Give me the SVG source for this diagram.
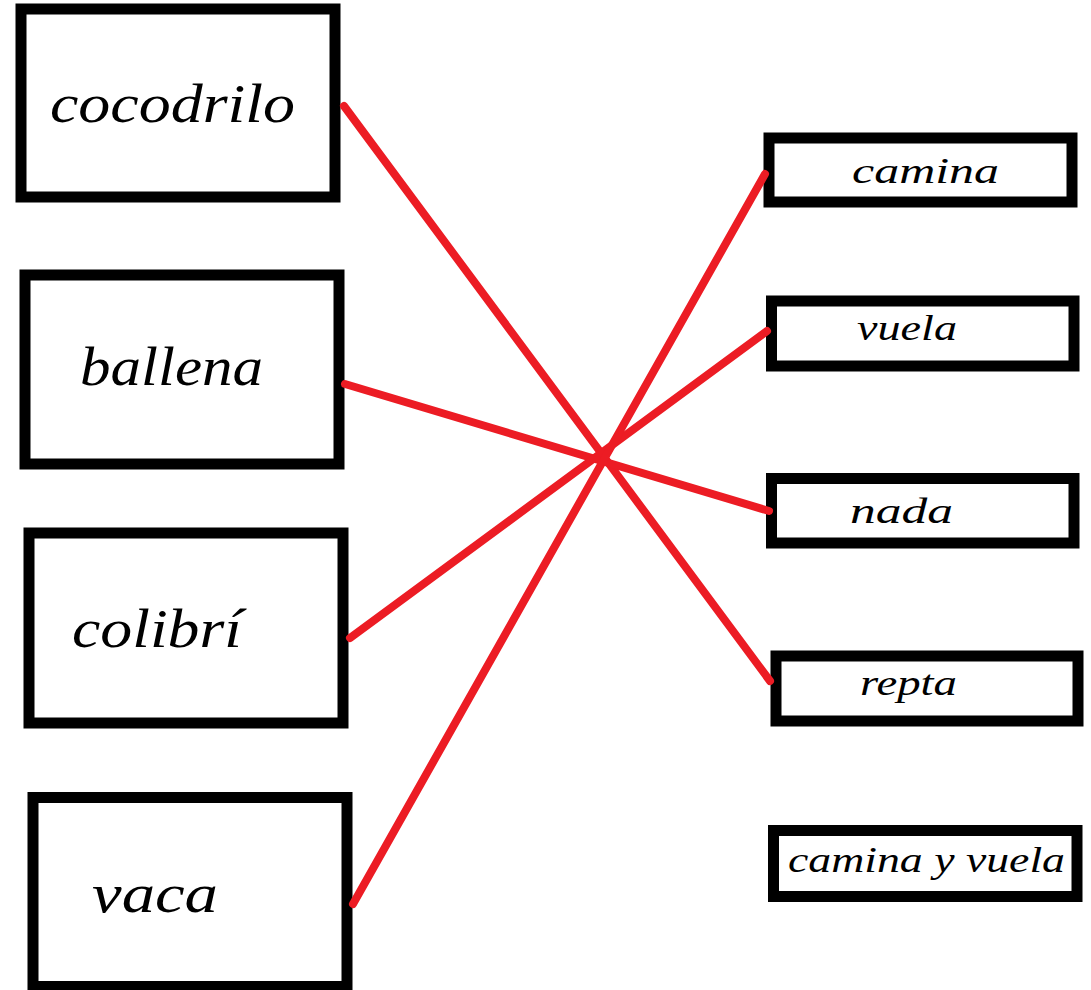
<svg xmlns="http://www.w3.org/2000/svg" width="1091" height="990" viewBox="0 0 1091 990">
<style>
.box{fill:#fff;stroke:#000;stroke-width:11}
.big{font-family:"Liberation Serif","DejaVu Serif",serif;font-style:italic;font-size:54px;fill:#000}
.small{font-family:"Liberation Serif","DejaVu Serif",serif;font-style:italic;font-size:36px;fill:#000}
.link{stroke:#ec1c24;stroke-width:8;stroke-linecap:round;fill:none}
</style>
<rect width="1091" height="990" fill="#fff"/>
<g id="cocodrilo"><rect class="box" x="21" y="9" width="314" height="188"/><text class="big" x="50" y="122" textLength="245" lengthAdjust="spacingAndGlyphs">cocodrilo</text></g>
<g id="ballena"><rect class="box" x="25" y="275" width="314" height="189"/><text class="big" x="80" y="385" textLength="183" lengthAdjust="spacingAndGlyphs">ballena</text></g>
<g id="colibri"><rect class="box" x="29" y="533" width="314" height="190"/><text class="big" x="72" y="647" textLength="170" lengthAdjust="spacingAndGlyphs">colibrí</text></g>
<g id="vaca"><rect class="box" x="33" y="797.5" width="314" height="189"/><text class="big" x="92" y="912" textLength="126" lengthAdjust="spacingAndGlyphs">vaca</text></g>
<g id="camina"><rect class="box" x="769" y="138" width="303" height="64"/><text class="small" x="852" y="183" textLength="147" lengthAdjust="spacingAndGlyphs">camina</text></g>
<g id="vuela"><rect class="box" x="771.5" y="301" width="302.5" height="65"/><text class="small" x="857" y="340" textLength="100" lengthAdjust="spacingAndGlyphs">vuela</text></g>
<g id="nada"><rect class="box" x="771.5" y="478.5" width="302.5" height="64.5"/><text class="small" x="850" y="523" textLength="103" lengthAdjust="spacingAndGlyphs">nada</text></g>
<g id="repta"><rect class="box" x="776" y="656" width="302" height="65"/><text class="small" x="860" y="695" textLength="97" lengthAdjust="spacingAndGlyphs">repta</text></g>
<g id="camina-y-vuela"><rect class="box" x="773.5" y="830.5" width="303.5" height="66"/><text class="small" x="788" y="872" textLength="277" lengthAdjust="spacingAndGlyphs">camina y vuela</text></g>
<g id="connectors">
<line class="link" x1="344" y1="106" x2="770" y2="681"/>
<line class="link" x1="345" y1="384" x2="769" y2="511"/>
<line class="link" x1="350" y1="638" x2="767" y2="331"/>
<line class="link" x1="353" y1="904" x2="765" y2="174"/>
</g>
</svg>
